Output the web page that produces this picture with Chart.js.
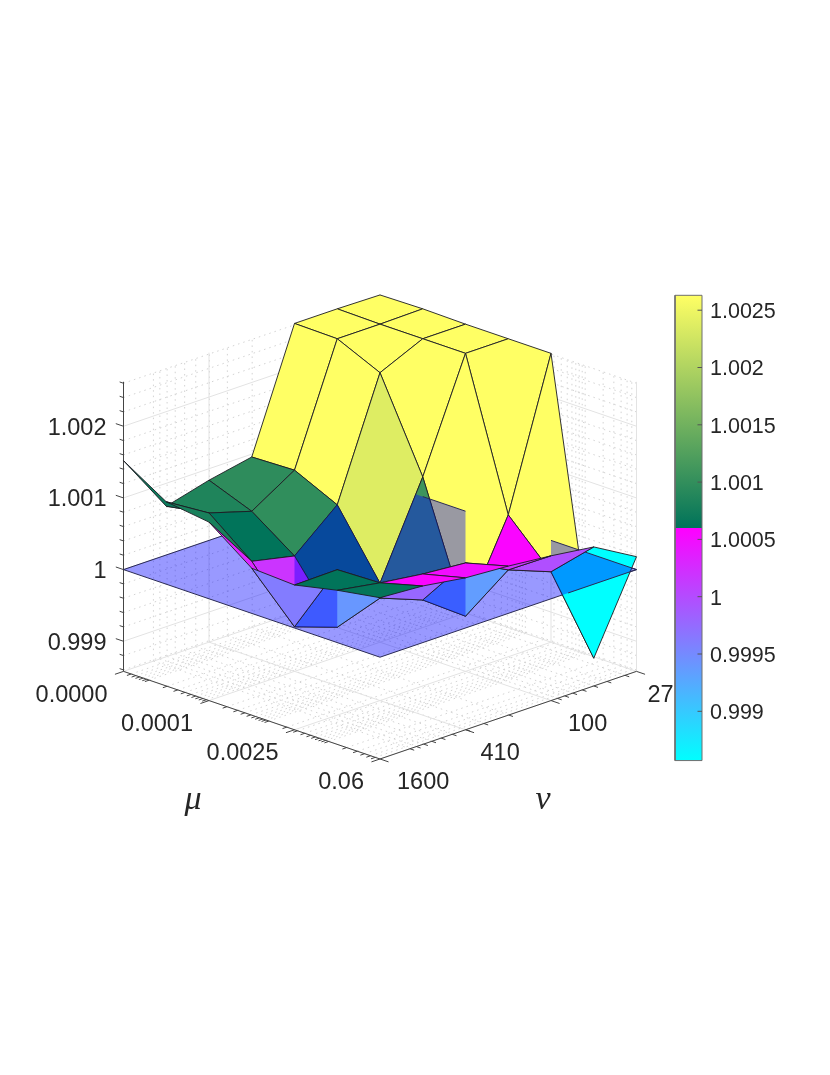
<!DOCTYPE html>
<html>
<head>
<meta charset="utf-8">
<title>Surface</title>
<script src="https://cdn.jsdelivr.net/npm/chart.js@4"></script>
<style>
    html, body { margin: 0; padding: 0; background: #fff; }
    canvas { display: block; }
</style>
</head>
<body>
<canvas id="chart" width="830" height="1075"></canvas>
<script>
    const muLabels = ['0.0000', '0.0001', '0.0025', '0.06'];
    const nuLabels = ['27', '100', '410', '1600'];
    const zTicks = [0.999, 1, 1.001, 1.002];
    const zMinorTicks = [0.9986, 0.9988, 0.9992, 0.9994, 0.9996, 0.9998, 1.0002, 1.0004, 1.0006, 1.0008,
        1.0012, 1.0014, 1.0016, 1.0018, 1.0022, 1.0024, 1.0026];
    const barTicks = [0.999, 0.9995, 1, 1.0005, 1.001, 1.0015, 1.002, 1.0025];
    const barLabels = ['0.999', '0.9995', '1', '1.0005', '1.001', '1.0015', '1.002', '1.0025'];

    // one row per mu index, one column per nu index
    const surfaceZ = [
        [1.00261, 1.00262, 1.00262, 1.00096, 1.00084, 1.00068, 1.00152],
        [1.00262, 1.00261, 1.00261, 1.00098, 1.00061, 1.00079, 1.00115],
        [1.00261, 1.00261, 1.00234, 1.00070, 1.00019, 1.00032, 1.00107],
        [1.00261, 1.00261, 1.00109, 0.99981, 0.99940, 0.99961, 1.00063],
        [1.00261, 1.00056, 0.99935, 0.99978, 1.00001, 1.00061, 1.00060],
        [0.99856, 0.99997, 1.00020, 1.00050, 1.00055, 1.00063, 1.00073],
        [1.00018, 1.00052, 1.00060, 1.00066, 1.00070, 1.00079, 1.00083]
    ];
    const planeZ = 1;
    const zMin = 0.99858;
    const zMax = 1.00262;
    const barMin = 0.99857;
    const barMax = 1.00263;
    const colorSplit = 1.0006;
    const colorTop = 1.0026;

    // faces that the flat sheet was painted over in the original (L/R = half of the face)
    const tintedFaces = { '4,0': 'R', '3,1': 'L', '3,2': 'A', '2,3': 'A', '3,4': 'L', '2,4': 'R', '4,2': 'L', '5,0': 'A' };
    // bits of the sheet outline that stay visible on top of the surface
    const sheetEdgesOnTop = [[1, 0, 2, 0], [4, 0, 4.65, 0], [4.8, 0, 6, 0], [6, 0, 6, 1.6]];

    // tick places on the log axes, in grid cells
    const majorSteps = [0, 2, 4, 6];
    const muMinor = [0.18, 0.29, 0.38, 0.46, 0.54, 0.6, 1.02, 1.27, 1.44, 1.58, 1.69, 1.78, 1.86, 1.94,
        2.42, 2.67, 2.84, 2.98, 3.09, 3.18, 3.26, 3.33, 3.4, 3.82, 4.07, 4.24, 4.38, 4.49, 4.58, 4.66,
        4.73, 4.8, 5.22, 5.47, 5.64, 5.78, 5.89];
    const nuMinor = [0.27, 0.69, 1.0, 1.27, 1.49, 1.68, 1.85, 2.99, 3.57, 3.99, 4.31, 4.57, 4.79, 4.98, 5.15, 5.3];

    const TEXT = '#262626';

    // oblique view of the box
    function project(i, j, z) {
        return {
            x: 380 + 42.75 * (i - j),
            y: 482 + 14.6 * (i + j) - (z - 1) * 71670
        };
    }

    function barY(z) {
        return 596.7 - (z - 1) * 114600;
    }

    function mix(a, b, t) {
        const k = Math.min(1, Math.max(0, t));
        return a.map((v, n) => Math.round(v + (b[n] - v) * k));
    }

    const lowStops = [[0, 255, 255], [255, 0, 255]];
    const highStops = [[0, 115, 90], [255, 255, 100]];

    function faceColor(z) {
        let c;
        if (z < colorSplit) {
            c = mix(lowStops[0], lowStops[1], (z - barMin) / (colorSplit - barMin));
        } else {
            c = mix(highStops[0], highStops[1], (z - colorSplit) / (colorTop - colorSplit));
        }
        return `rgb(${c[0]},${c[1]},${c[2]})`;
    }

    function clipToSheet(poly) {
        const d = [[0, 0], [6, 0], [6, 6], [0, 6]].map(c => project(c[0], c[1], planeZ));
        let out = poly;
        for (let e = 0; e < 4; e++) {
            const a = d[e];
            const b = d[(e + 1) % 4];
            const side = p => (b.x - a.x) * (p.y - a.y) - (b.y - a.y) * (p.x - a.x);
            const next = [];
            out.forEach((p, n) => {
                const q = out[(n + 1) % out.length];
                const sp = side(p);
                const sq = side(q);
                if (sp >= 0) next.push(p);
                if (sp * sq < 0) {
                    const t = sp / (sp - sq);
                    next.push({ x: p.x + (q.x - p.x) * t, y: p.y + (q.y - p.y) * t });
                }
            });
            out = next;
        }
        return out;
    }

    function closed(points) {
        return points.concat([points[0]]);
    }

    function lineSet(data, color, width, dash) {
        return {
            data: data,
            showLine: true,
            fill: false,
            borderColor: color,
            borderWidth: width,
            borderDash: dash || [],
            pointRadius: 0,
            tension: 0
        };
    }

    function polySet(points, fillColor, edgeColor, width) {
        return {
            data: closed(points),
            showLine: true,
            fill: 'shape',
            backgroundColor: fillColor,
            borderColor: edgeColor,
            borderWidth: width,
            pointRadius: 0,
            tension: 0
        };
    }

    // grids on both back walls and the floor
    const gridMajor = [];
    const gridMinor = [];

    function addSegment(target, a, b) {
        target.push(a, b, { x: NaN, y: NaN });
    }

    function addMuGrid(target, s) {
        addSegment(target, project(s, 0, zMin), project(s, 0, zMax));
        addSegment(target, project(s, 0, zMin), project(s, 6, zMin));
    }

    function addNuGrid(target, s) {
        addSegment(target, project(0, s, zMin), project(0, s, zMax));
        addSegment(target, project(0, s, zMin), project(6, s, zMin));
    }

    function addZGrid(target, z) {
        addSegment(target, project(0, 6, z), project(0, 0, z));
        addSegment(target, project(0, 0, z), project(6, 0, z));
    }

    majorSteps.forEach(s => {
        addMuGrid(gridMajor, s);
        addNuGrid(gridMajor, s);
    });
    zTicks.forEach(z => addZGrid(gridMajor, z));
    muMinor.forEach(s => addMuGrid(gridMinor, s));
    nuMinor.forEach(s => addNuGrid(gridMinor, s));
    zMinorTicks.forEach(z => addZGrid(gridMinor, z));

    // axes and their ticks
    const axisLines = [];
    addSegment(axisLines, project(0, 6, zMin), project(0, 6, zMax));
    addSegment(axisLines, project(0, 6, zMin), project(6, 6, zMin));
    addSegment(axisLines, project(6, 6, zMin), project(6, 0, zMin));

    majorSteps.forEach(s => {
        addSegment(axisLines, project(s, 6, zMin), project(s, 6.2, zMin));
        addSegment(axisLines, project(6, s, zMin), project(6.2, s, zMin));
    });
    muMinor.forEach(s => addSegment(axisLines, project(s, 6, zMin), project(s, 6.1, zMin)));
    nuMinor.forEach(s => addSegment(axisLines, project(6, s, zMin), project(6.1, s, zMin)));
    zTicks.forEach(z => addSegment(axisLines, project(0, 6, z), project(-0.18, 6, z)));
    zMinorTicks.forEach(z => addSegment(axisLines, project(0, 6, z), project(-0.09, 6, z)));

    const canvas = document.getElementById('chart');
    const ctx = canvas.getContext('2d');

    const paintOrder = [];
    paintOrder.push(lineSet(gridMinor, '#c8c8c8', 0.8, [1.5, 4]));
    paintOrder.push(lineSet(gridMajor, '#e3e3e3', 1));
    paintOrder.push(lineSet(axisLines, '#444444', 1));

    // the flat sheet
    const sheet = [[0, 0], [6, 0], [6, 6], [0, 6]].map(c => project(c[0], c[1], planeZ));
    paintOrder.push(polySet(sheet, 'rgba(0,0,255,0.4)', '#2a2a55', 1));

    // surface faces, far ones first
    const faces = [];
    for (let i = 0; i < 6; i++) {
        for (let j = 0; j < 6; j++) {
            faces.push([i, j]);
        }
    }
    faces.sort((a, b) => (a[0] + a[1]) - (b[0] + b[1]));

    faces.forEach(f => {
        const i = f[0];
        const j = f[1];
        const p00 = project(i, j, surfaceZ[i][j]);
        const p01 = project(i, j + 1, surfaceZ[i][j + 1]);
        const p11 = project(i + 1, j + 1, surfaceZ[i + 1][j + 1]);
        const p10 = project(i + 1, j, surfaceZ[i + 1][j]);
        paintOrder.push(polySet([p00, p01, p11, p10], faceColor(surfaceZ[i][j]), '#1c1c22', 0.9));

        const tint = tintedFaces[i + ',' + j];
        if (tint) {
            let piece = [p00, p01, p11, p10];
            if (tint === 'L') piece = [p00, p01, p11];
            if (tint === 'R') piece = [p00, p11, p10];
            paintOrder.push(polySet(clipToSheet(piece), 'rgba(0,0,255,0.4)', 'rgba(0,0,0,0)', 0));
        }
    });

    const topEdges = [];
    sheetEdgesOnTop.forEach(e => {
        addSegment(topEdges, project(e[0], e[1], planeZ), project(e[2], e[3], planeZ));
    });
    paintOrder.push(lineSet(topEdges, '#2a2a55', 1));

    // colorbar
    const barLeft = 675;
    const barRight = 702;
    const gradient = ctx.createLinearGradient(0, barY(barMin), 0, barY(barMax));
    const splitAt = (colorSplit - barMin) / (barMax - barMin);
    const stopColor = c => `rgb(${c[0]},${c[1]},${c[2]})`;
    gradient.addColorStop(0, stopColor(lowStops[0]));
    gradient.addColorStop(splitAt, stopColor(lowStops[1]));
    gradient.addColorStop(splitAt, stopColor(highStops[0]));
    gradient.addColorStop(1, stopColor(highStops[1]));
    paintOrder.push(polySet([
        { x: barLeft, y: barY(barMin) }, { x: barRight, y: barY(barMin) },
        { x: barRight, y: barY(barMax) }, { x: barLeft, y: barY(barMax) }
    ], gradient, '#6e6e6e', 1));

    const barTickLines = [];
    barTicks.forEach(z => {
        addSegment(barTickLines, { x: barRight - 4.5, y: barY(z) }, { x: barRight, y: barY(z) });
    });
    paintOrder.push(lineSet(barTickLines, '#555555', 1));

    const nuLabelShift = [11, 17, 15, 17];

    // text is placed off the same projection as the marks
    const textPlugin = {
        id: 'axisText',
        afterDatasetsDraw(chart) {
            const c = chart.ctx;
            c.save();
            c.fillStyle = TEXT;
            c.textBaseline = 'middle';
            c.font = '23.5px "Liberation Sans"';

            c.textAlign = 'right';
            zTicks.forEach(z => {
                const p = project(0, 6, z);
                c.fillText(String(z), p.x - 17, p.y + 2);
            });
            muLabels.forEach((t, n) => {
                const p = project(majorSteps[n], 6, zMin);
                c.fillText(t, p.x - 16, p.y + 24);
            });

            c.textAlign = 'left';
            nuLabels.forEach((t, n) => {
                const p = project(6, majorSteps[n], zMin);
                c.fillText(t, p.x + nuLabelShift[n], p.y + 24);
            });

            c.font = '21.5px "Liberation Sans"';
            barLabels.forEach((t, n) => {
                c.fillText(t, barRight + 8, barY(barTicks[n]) + 2);
            });

            c.font = 'italic 34px "Liberation Serif"';
            c.textAlign = 'center';
            c.fillText('\u03bc', 193, 800);
            c.fillText('\u03bd', 543, 800);
            c.restore();
        }
    };

    // Chart.js paints the first dataset last
    const chart = new Chart(canvas, {
        type: 'scatter',
        data: { datasets: paintOrder.reverse() },
        options: {
            responsive: false,
            animation: false,
            events: [],
            layout: { padding: 0 },
            scales: {
                x: { type: 'linear', min: 0, max: 830, display: false },
                y: { type: 'linear', min: 0, max: 1075, reverse: true, display: false }
            },
            plugins: {
                legend: { display: false },
                tooltip: { enabled: false }
            }
        },
        plugins: [textPlugin]
    });
</script>
</body>
</html>
